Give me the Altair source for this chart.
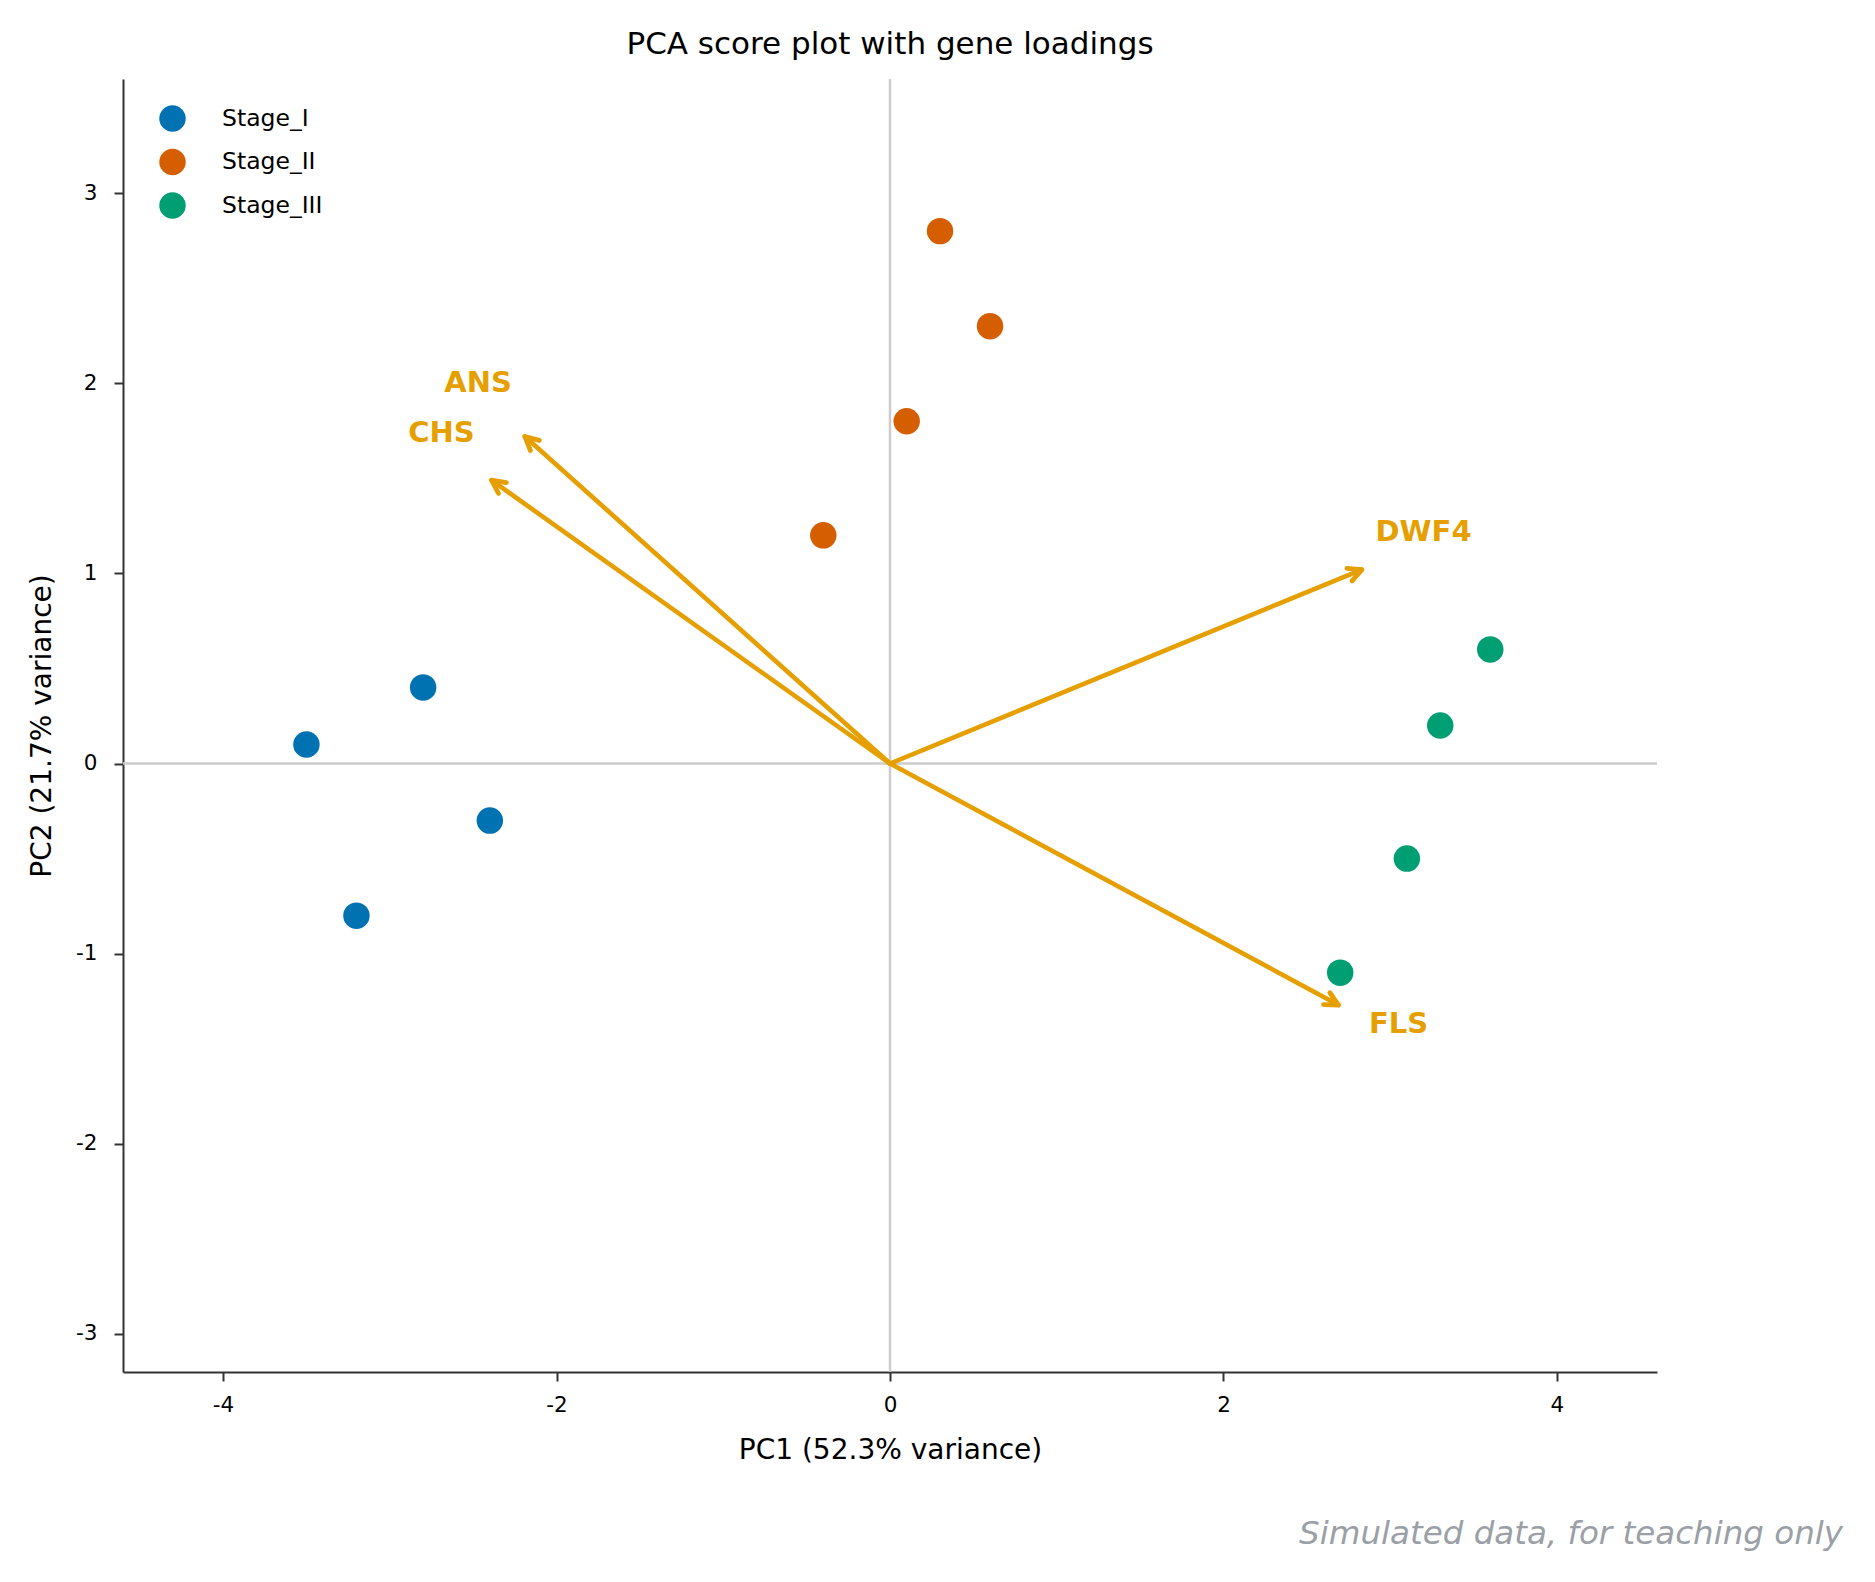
import math
import altair as alt
import pandas as pd

# ---------------- data ----------------
stages = ["Stage_I"] * 4 + ["Stage_II"] * 4 + ["Stage_III"] * 4
pc1 = [-3.5, -2.8, -2.4, -3.2, 0.3, 0.6, 0.1, -0.4, 3.6, 3.3, 3.1, 2.7]
pc2 = [0.1, 0.4, -0.3, -0.8, 2.8, 2.3, 1.8, 1.2, 0.6, 0.2, -0.5, -1.1]

genes = ["ANS", "CHS", "DWF4", "FLS"]
load_start = [0.0, 0.0, 0.0, 0.0]
load_pc1 = [-2.19, -2.39, 2.83, 2.69]
load_pc2 = [1.72, 1.49, 1.02, -1.27]
label_pc1 = [-2.47, -2.69, 3.20, 3.05]
label_pc2 = [2.0, 1.74, 1.22, -1.37]

stage_names = ["Stage_I", "Stage_II", "Stage_III"]
stage_colors = ["#0072B2", "#D55E00", "#009E73"]
ORANGE = "#E69F00"

x_ticks = [-4, -2, 0, 2, 4]
y_ticks = [-3, -2, -1, 0, 1, 2, 3]
X_DOMAIN = [-4.6, 4.6]
Y_DOMAIN = [-3.2, 3.6]

W, H = 1534, 1293
FONT = "DejaVu Sans"

# ---------------- tables ----------------
scores = pd.DataFrame({"pc1": pc1, "pc2": pc2, "stage": stages})

sx = W / (X_DOMAIN[1] - X_DOMAIN[0])
sy = H / (Y_DOMAIN[1] - Y_DOMAIN[0])
angles = [(math.degrees(math.atan2(a * sx, b * sy)) + 360) % 360 for a, b in zip(load_pc1, load_pc2)]
loads = pd.DataFrame({
    "gene": genes, "x0": load_start, "y0": load_start,
    "pc1": load_pc1, "pc2": load_pc2, "ang": angles,
    "lx": label_pc1, "ly": label_pc2,
})

xs = alt.Scale(domain=X_DOMAIN, nice=False, zero=False)
ys = alt.Scale(domain=Y_DOMAIN, nice=False, zero=False)

xa = alt.Axis(title="PC1 (52.3% variance)", values=x_ticks, labelExpr="'' + datum.value",
              labelPadding=13, titleX=W / 2, titleY=78, titleBaseline="middle", titleAlign="center")
ya = alt.Axis(title="PC2 (21.7% variance)", values=y_ticks, labelExpr="'' + datum.value",
              labelPadding=17, titleX=-81, titleY=H / 2, titleBaseline="middle", titleAlign="center",
              titleAngle=270)


def X(field):
    return alt.X(field, scale=xs, axis=xa)


def Y(field):
    return alt.Y(field, scale=ys, axis=ya)


zero_df = pd.DataFrame({"v": [0.0]})
zero_v = alt.Chart(zero_df).mark_rule(color="#cccccc", strokeWidth=2.5).encode(x=X("v:Q"))
zero_h = alt.Chart(zero_df).mark_rule(color="#cccccc", strokeWidth=2.5).encode(y=Y("v:Q"))

shafts = alt.Chart(loads).mark_rule(color=ORANGE, strokeWidth=4.6, strokeCap="round").encode(
    x=X("x0:Q"), y=Y("y0:Q"), x2="pc1:Q", y2="pc2:Q",
)

heads = alt.Chart(loads).mark_point(
    shape="M -0.5 1 L 0 0 L 0.5 1", filled=False, size=720, strokeWidth=4.8,
    color=ORANGE, opacity=1, strokeCap="round", strokeJoin="round",
).encode(
    x=X("pc1:Q"), y=Y("pc2:Q"),
    angle=alt.Angle("ang:Q", scale=None),
)

labels = alt.Chart(loads).mark_text(
    font=FONT, fontSize=29, fontWeight="bold", color=ORANGE, align="center", baseline="middle"
).encode(x=X("lx:Q"), y=Y("ly:Q"), text="gene:N")

points = alt.Chart(scores).mark_circle(size=700, opacity=1).encode(
    x=X("pc1:Q"), y=Y("pc2:Q"),
    color=alt.Color("stage:N", scale=alt.Scale(domain=stage_names, range=stage_colors),
                    legend=alt.Legend(orient="none", legendX=36, legendY=26, title=None,
                                      symbolType="circle", symbolSize=700, symbolStrokeWidth=0,
                                      symbolOpacity=1, labelFontSize=23.5, labelFont=FONT,
                                      labelColor="black", labelOffset=36, rowPadding=16.5,
                                      padding=0)),
)

footer = alt.Chart(pd.DataFrame({"t": ["Simulated data, for teaching only"]})).mark_text(
    font=FONT, fontSize=32.5, fontStyle="italic", color="#9aa0a6", align="right", baseline="middle"
).encode(x=alt.value(1720), y=alt.value(1455), text="t:N")

chart = alt.layer(zero_v, zero_h, shafts, heads, points, labels, footer).properties(
    width=W, height=H,
    title=alt.TitleParams("PCA score plot with gene loadings", font=FONT, fontSize=31,
                          fontWeight="normal", color="black", anchor="middle", offset=17),
    padding={"left": 115, "top": 71, "right": 200, "bottom": 190},
    autosize=alt.AutoSizeParams(type="none"),
).configure_view(stroke=None).configure_axis(
    grid=False, domainColor="#333333", domainWidth=2, tickColor="#333333", tickWidth=2,
    tickSize=9, labelFont=FONT, labelFontSize=21.5, labelColor="black",
    titleFont=FONT, titleFontSize=28, titleFontWeight="normal", titleColor="black",
)

chart.save("out.html", embed_options={"renderer": "svg", "actions": False})
